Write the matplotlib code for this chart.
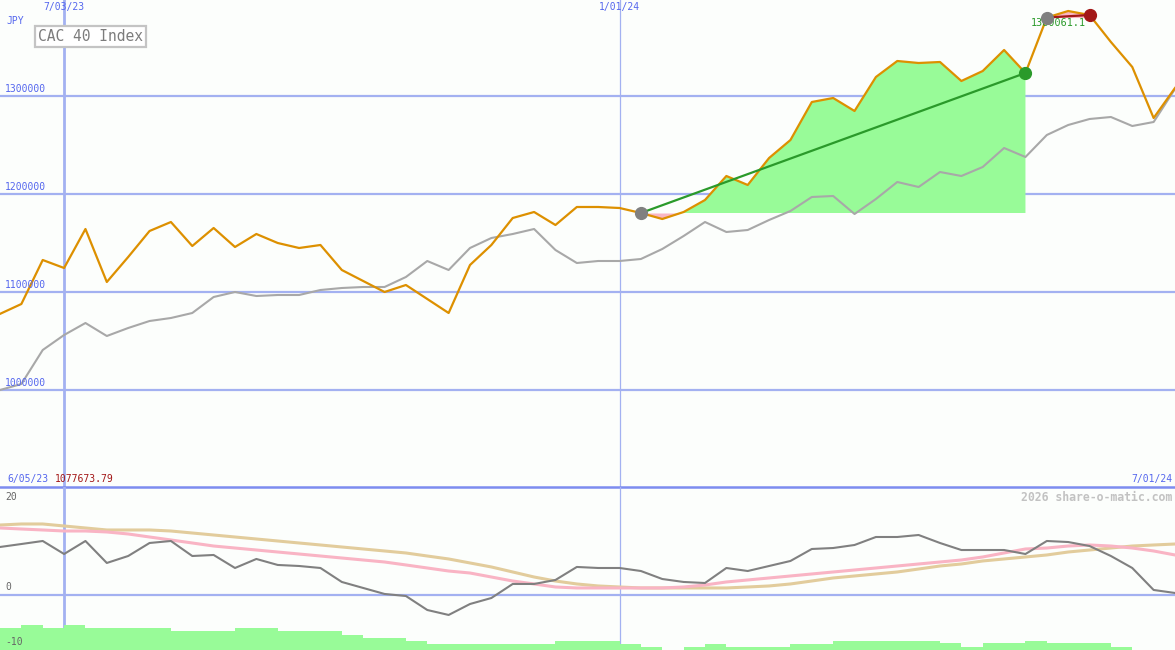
import matplotlib
matplotlib.use('Agg')
import matplotlib.pyplot as plt
import matplotlib.transforms as mtransforms
import numpy as np

# ---------------- data ----------------
price = [1077674, 1087755, 1132653, 1124490, 1164286, 1110204, 1135714, 1162245,
         1171429, 1146939, 1165306, 1145918, 1159184, 1150000, 1144898, 1147959,
         1122449, 1111224, 1100000, 1107143, 1092857, 1078571, 1127551, 1147959,
         1175510, 1181633, 1168367, 1186735, 1186735, 1185714, 1180612, 1174490,
         1181633, 1193878, 1218367, 1209184, 1236735, 1255102, 1293878, 1297959,
         1284694, 1319388, 1335714, 1333673, 1334694, 1315306, 1325510, 1346939,
         1323469, 1380061, 1386735, 1382653, 1355102, 1329592, 1277551, 1308163]

compare = [1000000, 1006122, 1040816, 1056122, 1068367, 1055102, 1063265, 1070408,
           1073469, 1078571, 1094898, 1100000, 1095918, 1096939, 1096939, 1102041,
           1104082, 1105102, 1105102, 1115306, 1131633, 1122449, 1144898, 1155102,
           1159184, 1164286, 1142857, 1129592, 1131633, 1131633, 1133673, 1143878,
           1157143, 1171429, 1161224, 1163265, 1173469, 1182653, 1196939, 1197959,
           1179592, 1194898, 1212245, 1207143, 1222449, 1218367, 1227551, 1246939,
           1237755, 1260204, 1270408, 1276531, 1278571, 1269388, 1273469, 1307143]

osc = [8.89, 9.44, 10.0, 7.59, 10.0, 5.93, 7.22, 9.63, 10.0, 7.22, 7.41, 5.0,
       6.67, 5.56, 5.37, 5.0, 2.41, 1.30, 0.19, -0.19, -2.78, -3.70, -1.67, -0.56,
       2.04, 2.04, 2.78, 5.19, 5.0, 5.0, 4.44, 2.96, 2.41, 2.22, 5.0, 4.44,
       5.37, 6.30, 8.52, 8.70, 9.26, 10.74, 10.74, 11.11, 9.63, 8.33, 8.33, 8.33,
       7.59, 10.0, 9.81, 9.07, 7.22, 5.0, 0.93, 0.37]

osc_fast = [12.41, 12.22, 12.04, 11.85, 11.85, 11.67, 11.30, 10.74, 10.19, 9.63, 9.07, 8.70,
            8.33, 7.96, 7.59, 7.22, 6.85, 6.48, 6.11, 5.56, 5.0, 4.44, 4.07, 3.33,
            2.59, 2.04, 1.48, 1.30, 1.30, 1.30, 1.30, 1.30, 1.48, 1.85, 2.41, 2.78,
            3.15, 3.52, 3.89, 4.26, 4.63, 5.0, 5.37, 5.74, 6.11, 6.48, 7.04, 7.78,
            8.52, 8.70, 9.07, 9.26, 9.07, 8.70, 8.15, 7.41]

osc_slow = [12.96, 13.15, 13.15, 12.78, 12.41, 12.04, 12.04, 12.04, 11.85, 11.48, 11.11, 10.74,
            10.37, 10.0, 9.63, 9.26, 8.89, 8.52, 8.15, 7.78, 7.22, 6.67, 5.93, 5.19,
            4.26, 3.33, 2.59, 2.04, 1.67, 1.48, 1.30, 1.30, 1.30, 1.30, 1.30, 1.48,
            1.67, 2.04, 2.59, 3.15, 3.52, 3.89, 4.26, 4.81, 5.37, 5.74, 6.30, 6.67,
            7.04, 7.41, 7.96, 8.33, 8.70, 9.07, 9.26, 9.44]

volume = [22, 25, 22, 25, 22, 22, 22, 22, 19, 19, 19, 22, 22, 19, 19, 19,
          15, 12, 12, 9, 6, 6, 6, 6, 6, 6, 9, 9, 9, 6, 3, 0,
          3, 6, 3, 3, 3, 6, 6, 9, 9, 9, 9, 9, 7, 3, 7, 7,
          9, 7, 7, 7, 3, 0, 0, 0]

price_ticks = [1000000, 1100000, 1200000, 1300000]
price_tick_labels = ['1000000', '1100000', '1200000', '1300000']
osc_ticks = [20, 0, -10]
osc_tick_labels = ['20', '0', '-10']
date_ticks = [3, 29]
date_labels = ['7/03/23', '1/01/24']
start_label = '6/05/23'
end_label = '7/01/24'
first_value_label = '1077673.79'
title = 'CAC 40 Index'
currency = 'JPY'
trade1 = (30, 48)
trade2 = (49, 51)
trade2_label = '1380061.1'
credit = '2026 share-o-matic.com'

# ---------------- style ----------------
BG = '#fcfefc'
GRID = '#a3b1f1'
SEP = '#7d8cf0'
TXT_BLUE = '#5567ee'
ORANGE = '#dd9000'
GREY = '#a8a8a8'
FILL_G = '#98fb98'
FILL_P = '#f9b6c4'
DGREEN = '#2a9a2a'
DRED = '#a31818'
FONT = 'DejaVu Sans Mono'

plt.rcParams['font.family'] = [FONT, 'DejaVu Sans']

fig = plt.figure(figsize=(11.75, 6.5), dpi=100, facecolor=BG)
H = 650.0
ax1 = fig.add_axes([0, 163 / H, 1, 487 / H], facecolor=BG)
ax2 = fig.add_axes([0, 0, 1, 163 / H], facecolor=BG)
for ax in (ax1, ax2):
    for s in ax.spines.values():
        s.set_visible(False)
    ax.set_xticks([])
    ax.set_yticks([])

n = len(price)
x = np.arange(n)
ax1.set_xlim(0, n - 1)
ax2.set_xlim(0, n - 1)
ax1.set_ylim(901020, 1397959)
ax2.set_ylim(-10.19, 20)

def off(ax, tr, dx_px, dy_px):
    return mtransforms.offset_copy(tr, fig=fig, x=dx_px * 0.72, y=dy_px * 0.72, units='points')

# ---- top panel grid ----
for v in price_ticks:
    ax1.axhline(v, color=GRID, lw=1.6, zorder=1)
ax1.axvline(date_ticks[0], color=GRID, lw=2.0, zorder=1)
ax1.axvline(date_ticks[1], color=GRID, lw=0.9, zorder=1)

ytr = mtransforms.blended_transform_factory(ax1.transAxes, ax1.transData)
for v, lab in zip(price_ticks, price_tick_labels):
    ax1.text(5 / 1175, v, lab, transform=off(ax1, ytr, 0, 2), ha='left', va='bottom',
             fontsize=7, color=TXT_BLUE, zorder=6)

xtr = mtransforms.blended_transform_factory(ax1.transData, ax1.transAxes)
for d, lab in zip(date_ticks, date_labels):
    ax1.text(d, 1.0, lab, transform=off(ax1, xtr, 0, -2), ha='center', va='top',
             fontsize=7, color=TXT_BLUE, zorder=6)

ax1.text(6 / 1175, 1 - 21 / 487, currency, transform=ax1.transAxes, ha='left', va='center',
         fontsize=7, color=TXT_BLUE)
ax1.text(38 / 1175, 1 - 36.5 / 487, title, transform=ax1.transAxes, ha='left', va='center',
         fontsize=10.5, color='#7c7c7c', zorder=8,
         bbox=dict(boxstyle='square,pad=0.22', fc='white', ec='#c4c4c4', lw=1.6))

ax1.text(7 / 1175, 0.0, start_label, transform=off(ax1, ax1.transAxes, 0, 3), ha='left',
         va='bottom', fontsize=7, color=TXT_BLUE)
ax1.text(55 / 1175, 0.0, first_value_label, transform=off(ax1, ax1.transAxes, 0, 3),
         ha='left', va='bottom', fontsize=7, color=DRED)
ax1.text(1172 / 1175, 0.0, end_label, transform=off(ax1, ax1.transAxes, 0, 3), ha='right',
         va='bottom', fontsize=7, color=TXT_BLUE)

# ---- trades ----
p = np.array(price, dtype=float)
a, b = trade1
xs = x[a:b + 1]
base = p[a]
ax1.fill_between(xs, base, p[a:b + 1], where=p[a:b + 1] >= base, interpolate=True,
                 color=FILL_G, lw=0, zorder=2)
ax1.fill_between(xs, base, p[a:b + 1], where=p[a:b + 1] < base, interpolate=True,
                 color=FILL_P, lw=0, zorder=2)
c, d = trade2
xs2 = x[c:d + 1]
base2 = p[c]
ax1.fill_between(xs2, base2, p[c:d + 1], where=p[c:d + 1] >= base2, interpolate=True,
                 color=FILL_P, lw=0, zorder=2)

ax1.plot(x, compare, color=GREY, lw=1.5, zorder=3)
ax1.plot(x, price, color=ORANGE, lw=1.6, zorder=4)

ax1.text(c - 0.75, p[c], trade2_label, transform=off(ax1, ax1.transData, 0, -5),
         ha='left', va='center', fontsize=7.3, color=DGREEN, zorder=5)

ax1.plot([a, b], [p[a], p[b]], color=DGREEN, lw=1.6, zorder=5)
ax1.plot([c, d], [p[c], p[d]], color=DRED, lw=1.6, zorder=5)
ax1.plot([a], [p[a]], 'o', color='#808080', ms=8.5, zorder=6)
ax1.plot([b], [p[b]], 'o', color=DGREEN, ms=8.5, zorder=6)
ax1.plot([c], [p[c]], 'o', color='#808080', ms=8.5, zorder=6)
ax1.plot([d], [p[d]], 'o', color=DRED, ms=8.5, zorder=6)

# ---- bottom panel ----
ax2.axhline(0, color=GRID, lw=1.6, zorder=1)
ax2.axhline(20, color=SEP, lw=1.8, zorder=1, clip_on=False)
ax2.axvline(date_ticks[0], color=GRID, lw=2.0, zorder=1)
ax2.axvline(date_ticks[1], color=GRID, lw=0.9, zorder=1)

vol_scale = 1 / 5.4
ax2.bar(x, np.array(volume) * vol_scale, width=1.0, align='edge', bottom=-10.19,
        color=FILL_G, lw=0, zorder=2)

ax2.plot(x, osc_slow, color='#e2cc9c', lw=2.2, zorder=3)
ax2.plot(x, osc_fast, color='#f9b4c4', lw=2.2, zorder=3)
ax2.plot(x, osc, color='#808080', lw=1.5, zorder=4)

ytr2 = mtransforms.blended_transform_factory(ax2.transAxes, ax2.transData)
ax2.text(5 / 1175, 20, osc_tick_labels[0], transform=off(ax2, ytr2, 0, -5), ha='left',
         va='top', fontsize=7, color='#666666', zorder=6)
ax2.text(5 / 1175, 0, osc_tick_labels[1], transform=off(ax2, ytr2, 0, 3), ha='left',
         va='bottom', fontsize=7, color='#666666', zorder=6)
ax2.text(5 / 1175, -10.19, osc_tick_labels[2], transform=off(ax2, ytr2, 0, 3), ha='left',
         va='bottom', fontsize=7, color='#666666', zorder=6)

ax2.text(1172 / 1175, 1.0, credit, transform=off(ax2, ax2.transAxes, 0, -4), ha='right',
         va='top', fontsize=8.3, color='#c2c2c2', fontweight='bold', zorder=6)

fig.savefig('out.png', dpi=100, facecolor=BG)
